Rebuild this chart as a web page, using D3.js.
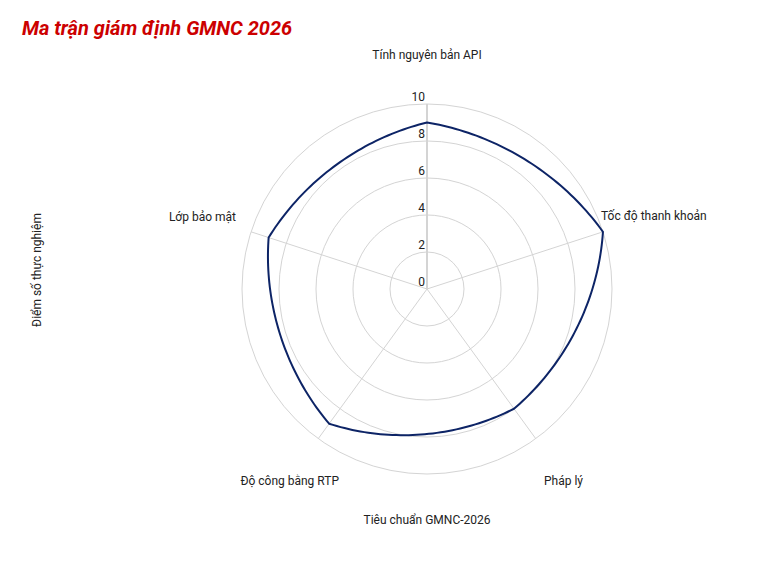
<!DOCTYPE html>
<html><head><meta charset="utf-8">
<script src="https://cdn.jsdelivr.net/npm/d3@7"></script>
<style>body{margin:0;background:#fff}text{font-family:Roboto,sans-serif}</style>
</head><body><svg id="c" width="769" height="577"></svg>
<script>
const categories = ["Tính nguyên bản API","Tốc độ thanh khoản","Pháp lý","Độ công bằng RTP","Lớp bảo mật"];
const values = [9, 10, 8, 9, 9];
const ticks = [0, 2, 4, 6, 8, 10];
const title = "Ma trận giám định GMNC 2026";
const xTitle = "Tiêu chuẩn GMNC-2026";
const yTitle = "Điểm số thực nghiệm";

const svg = d3.select("#c");
const cx = 427, cy = 289, R = 185;
const r = d3.scaleLinear().domain([0, 10]).range([0, R]);
const ang = d3.scaleLinear().domain([0, categories.length]).range([0, 2 * Math.PI]);
const g = svg.append("g").attr("transform", `translate(${cx},${cy})`);

g.selectAll("circle.grid").data(ticks.filter(t => t > 0)).join("circle")
  .attr("r", d => r(d)).attr("fill", "none").attr("stroke", "#d4d4d4").attr("stroke-width", 1);

g.selectAll("line.spoke").data(categories).join("line")
  .attr("x1", 0).attr("y1", 0)
  .attr("x2", (d, i) => r(10) * Math.sin(ang(i)))
  .attr("y2", (d, i) => -r(10) * Math.cos(ang(i)))
  .attr("stroke", "#d4d4d4").attr("stroke-width", (d, i) => i === 0 ? 2 : 1);

g.selectAll("text.tick").data(ticks).join("text")
  .attr("x", -2).attr("y", d => -r(d) - 3)
  .attr("text-anchor", "end").attr("font-size", 12).attr("fill", "#222")
  .text(d => d);

// Custom closed curve: blend of chord and polar (angle-linear) interpolation
function curveRoundClosed(w) {
  return function (context) {
    let pts = [];
    return {
      areaStart() {}, areaEnd() {},
      lineStart() { pts = []; },
      point(x, y) { pts.push([x, y, Math.atan2(x, -y), Math.hypot(x, y)]); },
      lineEnd() {
        const n = pts.length, steps = 48;
        for (let i = 0; i < n; i++) {
          const p0 = pts[i], p1 = pts[(i + 1) % n];
          let da = p1[2] - p0[2];
          while (da <= -Math.PI) da += 2 * Math.PI;
          while (da > Math.PI) da -= 2 * Math.PI;
          for (let s = 0; s < steps; s++) {
            const t = s / steps, a = p0[2] + da * t, rr = p0[3] + (p1[3] - p0[3]) * t;
            const px = rr * Math.sin(a), py = -rr * Math.cos(a);
            const lx = p0[0] + (p1[0] - p0[0]) * t, ly = p0[1] + (p1[1] - p0[1]) * t;
            const X = lx + (px - lx) * w, Y = ly + (py - ly) * w;
            if (i === 0 && s === 0) context.moveTo(X, Y); else context.lineTo(X, Y);
          }
        }
        context.closePath();
      }
    };
  };
}
const line = d3.lineRadial().angle((d, i) => ang(i)).radius(d => r(d)).curve(curveRoundClosed(0.6));
g.append("path").datum(values).attr("d", line)
  .attr("fill", "none").attr("stroke", "#0d2466").attr("stroke-width", 2)
  .attr("stroke-linejoin", "round");

const labelPos = [
  {x: 0, y: -230, a: "middle"},
  {x: 174, y: -69, a: "start"},
  {x: 117, y: 196, a: "start"},
  {x: -88, y: 196, a: "end"},
  {x: -191, y: -68, a: "end"}
];
g.selectAll("text.cat").data(categories).join("text")
  .attr("x", (d, i) => labelPos[i].x).attr("y", (d, i) => labelPos[i].y)
  .attr("text-anchor", (d, i) => labelPos[i].a)
  .attr("font-size", 12).attr("fill", "#222").text(d => d);

svg.append("text").attr("x", 22).attr("y", 35)
  .attr("font-size", 20).attr("font-weight", "bold").attr("font-style", "italic")
  .attr("fill", "#cc0000").text(title);

svg.append("text").attr("x", 427).attr("y", 524).attr("text-anchor", "middle")
  .attr("font-size", 12).attr("fill", "#222").text(xTitle);

svg.append("text").attr("transform", "translate(41,270) rotate(-90)")
  .attr("text-anchor", "middle").attr("font-size", 12).attr("fill", "#222").text(yTitle);
</script></body></html>
